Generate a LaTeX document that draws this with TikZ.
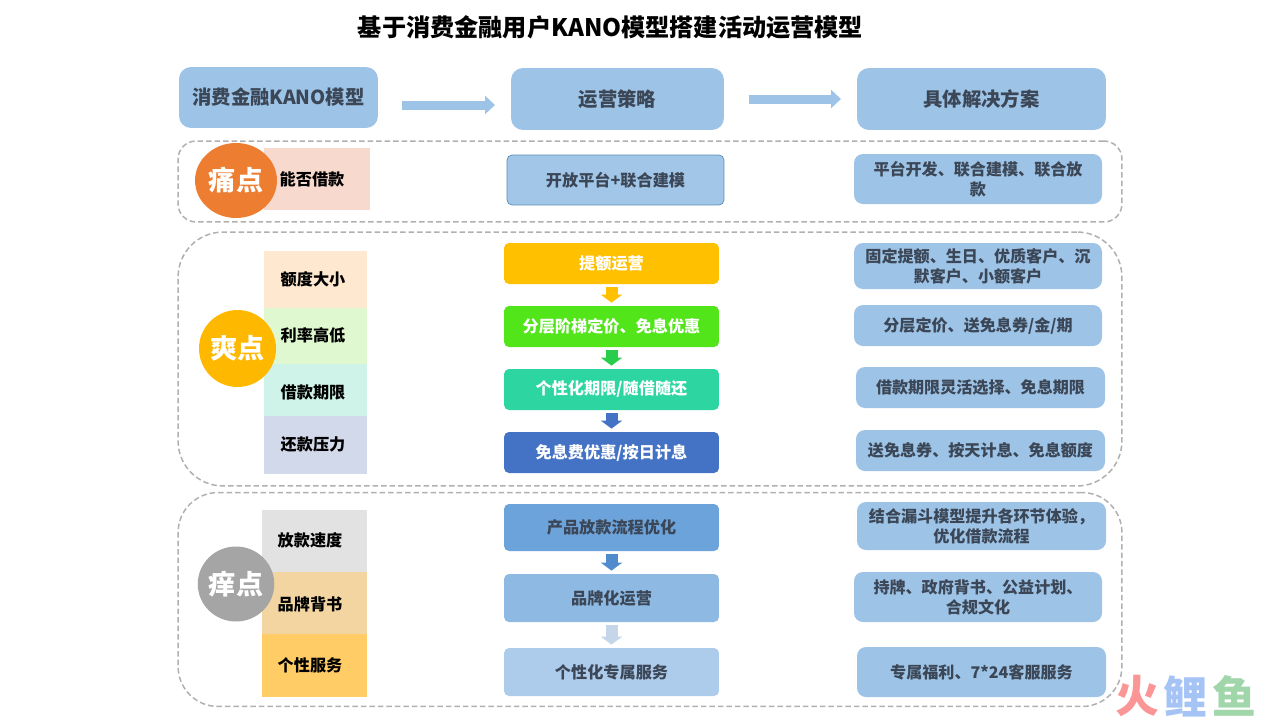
\documentclass[tikz,border=0pt]{standalone}
\usepackage{fontspec}
\setmainfont{Noto Sans CJK SC}
\usepackage{xcolor}
\usetikzlibrary{arrows.meta,shapes.geometric}
\definecolor{headblue}{HTML}{9DC3E6}
\definecolor{inkdark}{HTML}{3B4656}
\definecolor{groupgray}{HTML}{B0B0B0}
\definecolor{stepline}{HTML}{5B8DBB}
\begin{document}
\begin{tikzpicture}[
	x=0.02cm, y=-0.02cm,
	titlelabel/.style={font=\fontsize{13.75pt}{16pt}\bfseries\selectfont, text=black, inner sep=0pt},
	headbox/.style={fill=headblue, rounded corners=0.24cm, text=inkdark, inner sep=0pt, font=\fontsize{11pt}{14pt}\bfseries\selectfont},
	groupbox/.style={draw=groupgray, line width=0.03cm, dash pattern=on 0.11cm off 0.06cm, inner sep=0pt},
	kindnode/.style={ellipse, inner sep=0pt, text=white, font=\fontsize{15.4pt}{18pt}\bfseries\selectfont},
	needbox/.style={inner sep=0pt, text=black, font=\fontsize{9.2pt}{11pt}\bfseries\selectfont},
	stepbox/.style={rounded corners=0.1cm, inner sep=0pt, align=center, font=\fontsize{9.2pt}{11pt}\bfseries\selectfont},
	planbox/.style={fill=headblue, rounded corners=0.18cm, text=inkdark, inner sep=0pt, align=center, font=\fontsize{9.15pt}{11.4pt}\bfseries\selectfont},
	markletter/.style={inner sep=0pt, font=\fontsize{25pt}{30pt}\bfseries\selectfont},
	headarrow/.style={draw=headblue, line width=0.18cm, -{Triangle[length=0.2cm,width=0.36cm]}},
	downarrow/.style={line width=0.24cm, -{Triangle[length=0.16cm,width=0.42cm]}, shorten <=0.06cm, shorten >=0.06cm}
	]
	\useasboundingbox (0,0) rectangle (1280,720);

	% title
	\node[titlelabel] (title) at (610.5,27) {基于消费金融用户KANO模型搭建活动运营模型};

	% header row
	\node[headbox, minimum width=3.98cm, minimum height=1.22cm] (head1) at (278.5,97.5) {消费金融KANO模型};
	\node[headbox, minimum width=4.26cm, minimum height=1.24cm] (head2) at (617.5,99) {运营策略};
	\node[headbox, minimum width=4.98cm, minimum height=1.24cm] (head3) at (981.5,99) {具体解决方案};
	\coordinate (arrA) at (402,105);
	\coordinate (arrB) at (495,105);
	\coordinate (arrC) at (749,99);
	\coordinate (arrD) at (841,99);
	\draw[headarrow] (arrA) -- (arrB);
	\draw[headarrow] (arrC) -- (arrD);

	% dashed groups
	\node[groupbox, rounded corners=0.36cm, minimum width=18.88cm, minimum height=1.62cm] (groupA) at (650,181.5) {};
	\node[groupbox, rounded corners=0.9cm, minimum width=18.88cm, minimum height=5.08cm] (groupB) at (650,359) {};
	\node[groupbox, rounded corners=0.8cm, minimum width=18.88cm, minimum height=4.28cm] (groupC) at (650,599.5) {};

	% left column
	\foreach \name/\cx/\cy/\boxw/\boxh/\col/\tx/\ty/\txt in {
		needA/317/179/106/62/F8D9CE/312/179/能否借款,
		needB/315.5/279.5/103/57/FFE8D0/313/279/额度大小,
		needC/315.5/336/103/56/E0F8D0/313/335/利率高低,
		needD/315.5/390/103/52/CFF3E8/313/392/借款期限,
		needE/315.5/445/103/58/D2D9EA/313/444/还款压力,
		needF/314.5/541/105/62/E2E2E2/310/540/放款速度,
		needG/314.5/603/105/62/F2D5A0/310/604/品牌背书,
		needH/314.5/665.5/105/63/FFCC66/310/665/个性服务} {
		\definecolor{thisfill}{HTML}{\col}
		\node[needbox, fill=thisfill, minimum width=\boxw*0.02cm, minimum height=\boxh*0.02cm] (\name) at (\cx,\cy) {};
		\node[needbox] (\name t) at (\tx,\ty) {\txt};
	}

	% kind circles
	\node[kindnode, fill={rgb,255:red,237;green,125;blue,49}, minimum width=1.64cm, minimum height=1.5cm] (kindA) at (236,180.5) {痛点};
	\node[kindnode, fill={rgb,255:red,255;green,184;blue,0}, minimum width=1.54cm, minimum height=1.54cm] (kindB) at (237.5,348.5) {爽点};
	\node[kindnode, fill={rgb,255:red,165;green,165;blue,165}, minimum width=1.52cm, minimum height=1.5cm] (kindC) at (236,584) {痒点};

	% middle column
	\node[stepbox, draw=stepline, fill=headblue!95!white, text=inkdark, minimum width=4.34cm, minimum height=1cm] (stepO) at (615.5,180) {开放平台+联合建模};
	\foreach \name/\cy/\boxh/\col/\ink/\txt in {
		stepA/263.5/41/FFC000/FFFFFF/提额运营,
		stepB/326.5/41/52E51A/FFFFFF/{分层阶梯定价、免息优惠},
		stepC/389.5/41/2DD6A0/FFFFFF/{个性化期限/随借随还},
		stepD/452.5/41/4472C4/FFFFFF/{免息费优惠/按日计息},
		stepE/527.5/47/6CA3DB/3B4656/产品放款流程优化,
		stepF/598/48/8DB9E3/3B4656/品牌化运营,
		stepG/672/48/ADCBEA/3B4656/个性化专属服务} {
		\definecolor{thisfill}{HTML}{\col}
		\definecolor{thisink}{HTML}{\ink}
		\node[stepbox, fill=thisfill, text=thisink, minimum width=4.3cm, minimum height=\boxh*0.02cm] (\name) at (611.5,\cy) {\txt};
	}
	\draw[downarrow, draw={rgb,255:red,255;green,192;blue,0}] (stepA) -- (stepB);
	\draw[downarrow, draw={rgb,255:red,40;green,205;blue,75}] (stepB) -- (stepC);
	\draw[downarrow, draw={rgb,255:red,68;green,114;blue,196}] (stepC) -- (stepD);
	\draw[downarrow, draw={rgb,255:red,80;green,140;blue,205}] (stepE) -- (stepF);
	\draw[downarrow, draw={rgb,255:red,197;green,213;blue,234}] (stepF) -- (stepG);

	% right column
	\foreach \name/\cx/\cy/\boxw/\boxh/\txt in {
		planA/978/179/248/50/{平台开发、联合建模、联合放\\款},
		planB/978/266/248/46/{固定提额、生日、优质客户、沉\\默客户、小额客户},
		planC/978/325.5/248/41/{分层定价、送免息券/金/期},
		planD/980.5/387.5/249/41/{借款期限灵活选择、免息期限},
		planE/980.5/450.5/249/41/{送免息券、按天计息、免息额度},
		planF/981.5/526/249/48/{结合漏斗模型提升各环节体验，\\优化借款流程},
		planG/978/597/248/50/{持牌、政府背书、公益计划、\\合规文化},
		planH/981.5/672/249/50/{专属福利、7*24客服服务}} {
		\node[planbox, minimum width=\boxw*0.02cm, minimum height=\boxh*0.02cm] (\name) at (\cx,\cy) {\txt};
	}

	% watermark
	\node[markletter, text={rgb,255:red,250;green,150;blue,150}] (markA) at (1137,696) {火};
	\node[markletter, text={rgb,255:red,165;green,195;blue,245}] (markB) at (1185,696) {鲤};
	\node[markletter, text={rgb,255:red,160;green,214;blue,170}] (markC) at (1234,696) {鱼};
\end{tikzpicture}
\end{document}
